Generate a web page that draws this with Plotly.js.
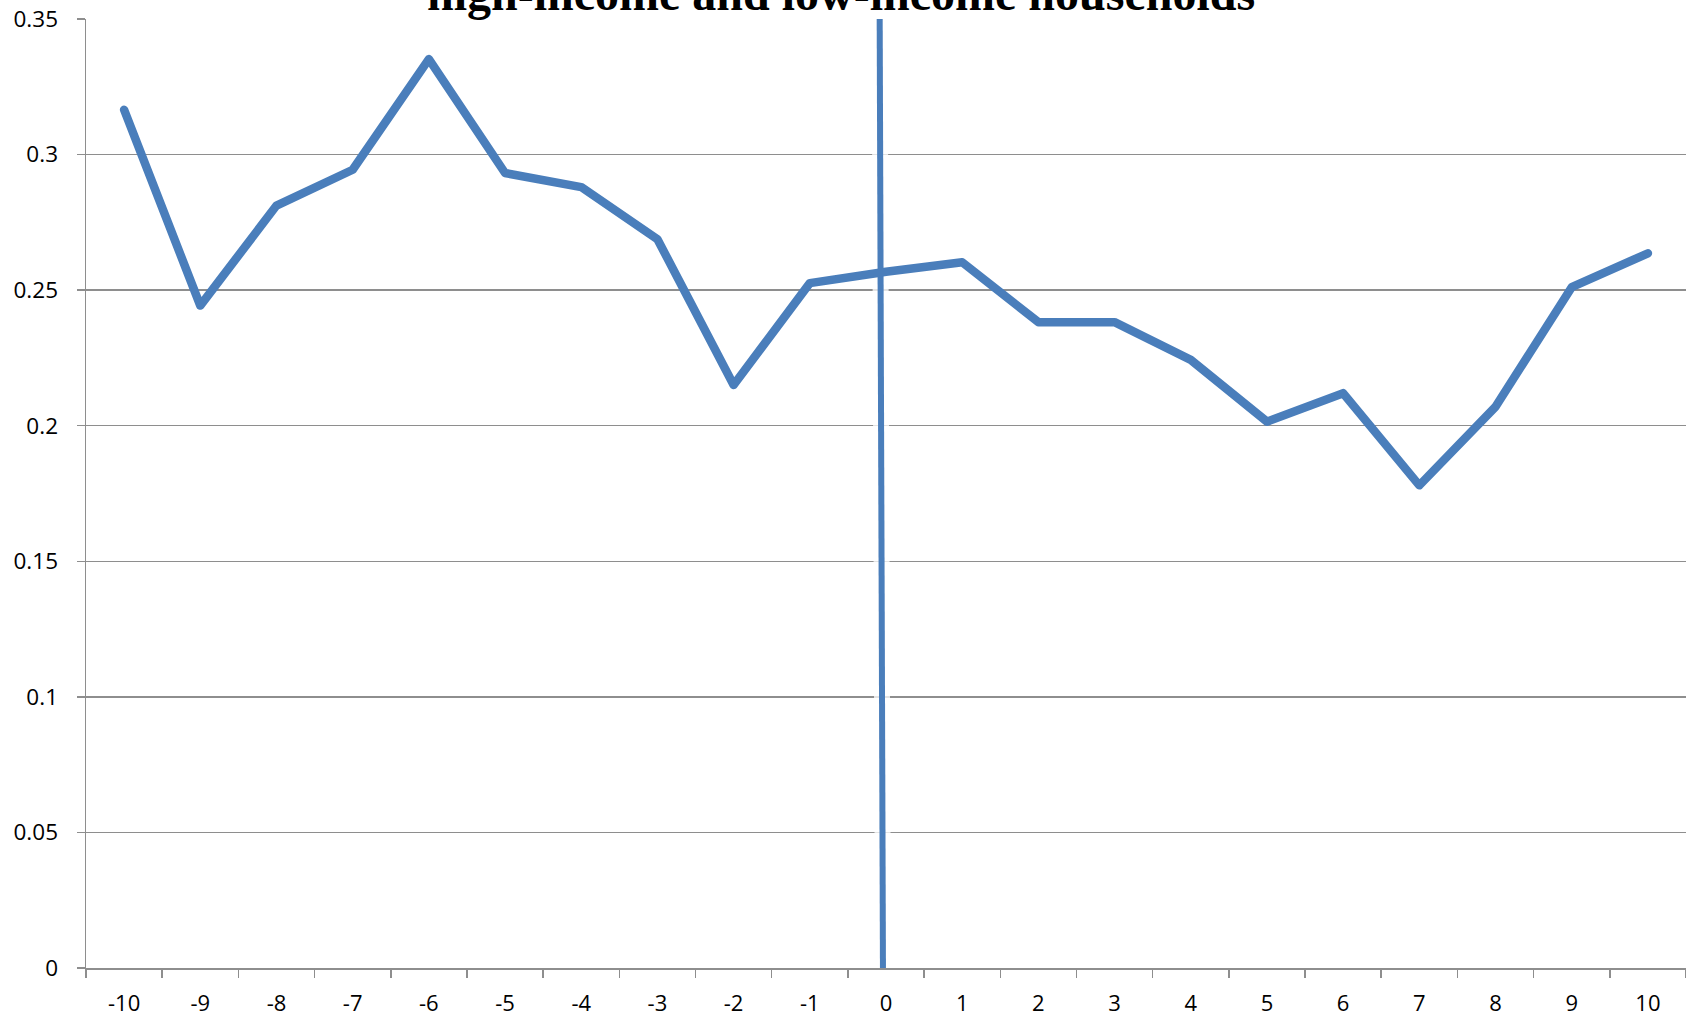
<!DOCTYPE html>
<html>
<head>
<meta charset="utf-8">
<script src="https://cdn.plot.ly/plotly-3.0.1.min.js"></script>
<style>
html,body{margin:0;padding:0;background:#fff;}
#chart{width:1686px;height:1018px;}
#chart .scatterlayer .trace:last-child path.js-line{stroke-linejoin:round;stroke-linecap:round;}
</style>
</head>
<body>
<div id="chart"></div>
<script>
// Data
const years = [-10,-9,-8,-7,-6,-5,-4,-3,-2,-1,0,1,2,3,4,5,6,7,8,9,10];
const values = [0.3165,0.2443,0.2812,0.2944,0.3352,0.2932,0.2880,0.2688,0.2150,0.2526,0.2568,0.2603,0.2382,0.2382,0.2243,0.2015,0.2120,0.1780,0.2070,0.2511,0.2636];
// Vertical marker line at the event year (slightly tilted, as in the reference)
const markerX = [-0.083, -0.04];
const markerY = [0.35, 0];
const yTicks = [0, 0.05, 0.1, 0.15, 0.2, 0.25, 0.3, 0.35];
const yTickText = ["0","0.05","0.1","0.15","0.2","0.25","0.3","0.35"];
const xTickText = years.map(String);
const titleText = "high-income and low-income households";

const blue = "#4a7ebb";
const gridGray = "#8e8e8e";

const traces = [
  {x: markerX, y: markerY, mode: "lines", line: {color: "rgba(255,255,255,0.75)", width: 16}, hoverinfo: "skip", showlegend: false, cliponaxis: false},
  {x: markerX, y: markerY, mode: "lines", line: {color: blue, width: 6}, showlegend: false, cliponaxis: false},
  {x: years, y: values, mode: "lines", line: {color: blue, width: 8.5}, showlegend: false, cliponaxis: false}
];

const layout = {
  width: 1686, height: 1018,
  margin: {l: 86, r: 0, t: 19, b: 50, pad: 0},
  paper_bgcolor: "#ffffff", plot_bgcolor: "#ffffff",
  showlegend: false,
  font: {family: "Open Sans, Liberation Sans, sans-serif", color: "#000000", size: 22},
  xaxis: {
    range: [-10.5, 10.5], fixedrange: true,
    tickvals: years, ticktext: xTickText,
    ticks: "", showgrid: false, zeroline: false,
    showline: true, linecolor: gridGray, linewidth: 1.5,
    ticklabelstandoff: 15,
    tickfont: {size: 22, color: "#000"},
    minor: {tick0: 0.5, dtick: 1, ticks: "outside", ticklen: 8, tickcolor: gridGray, tickwidth: 1.5, showgrid: false}
  },
  yaxis: {
    range: [0, 0.35], fixedrange: true,
    tickvals: yTicks, ticktext: yTickText,
    ticks: "outside", ticklen: 8, tickcolor: gridGray, tickwidth: 1.5,
    showgrid: true, gridcolor: gridGray, gridwidth: 1.5,
    zeroline: false,
    showline: true, linecolor: gridGray, linewidth: 1.5,
    ticklabelstandoff: 14,
    tickfont: {size: 22.5, color: "#000"}
  },
  annotations: [{
    text: "<b>" + titleText + "</b>",
    xref: "paper", yref: "paper", x: 0.472, y: 1, xanchor: "center", yanchor: "bottom",
    yshift: -3, showarrow: false,
    font: {family: "Liberation Serif, Times New Roman, serif", size: 48, color: "#000"}
  }]
};

Plotly.newPlot("chart", traces, layout, {displayModeBar: false, staticPlot: true});
</script>
</body>
</html>
